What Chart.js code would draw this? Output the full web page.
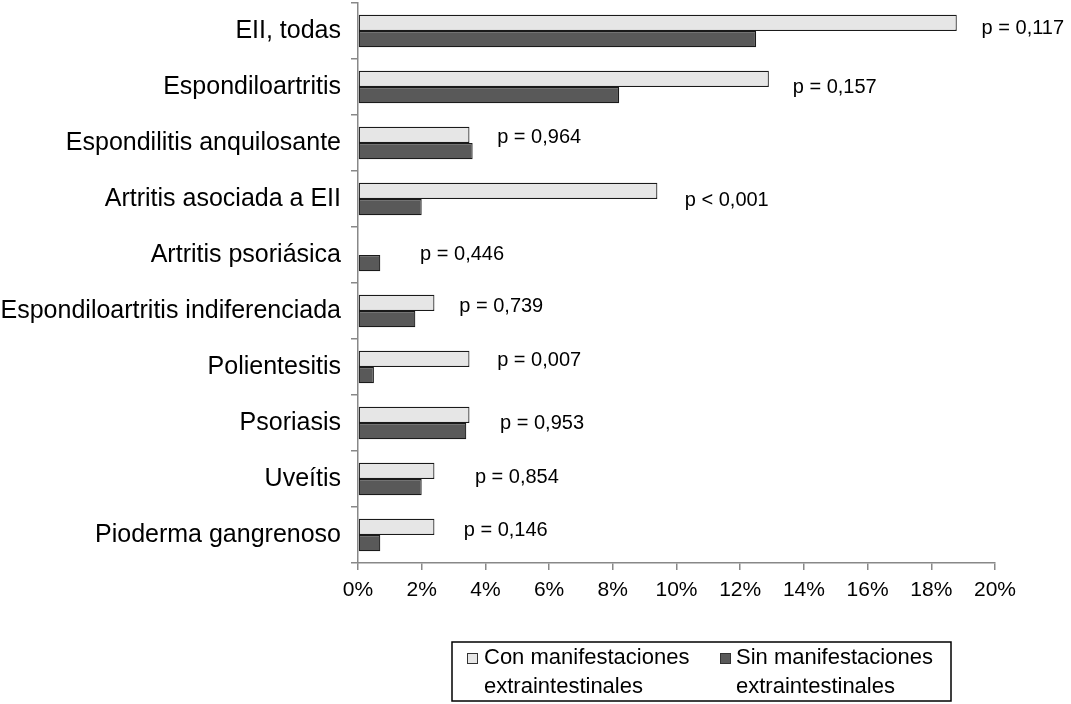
<!DOCTYPE html>
<html>
<head>
<meta charset="utf-8">
<script src="https://cdn.jsdelivr.net/npm/chart.js@4.4.1/dist/chart.umd.min.js"></script>
<style>
  html, body { margin: 0; padding: 0; background: #fff; }
  #wrap { width: 1071px; height: 704px; position: relative; }
</style>
</head>
<body>
<div id="wrap"><canvas id="c" width="1071" height="704"></canvas></div>
<script>
const categories = [
  'EII, todas',
  'Espondiloartritis',
  'Espondilitis anquilosante',
  'Artritis asociada a EII',
  'Artritis psoriásica',
  'Espondiloartritis indiferenciada',
  'Polientesitis',
  'Psoriasis',
  'Uveítis',
  'Pioderma gangrenoso'
];
const seriesNames = ['Con manifestaciones extraintestinales', 'Sin manifestaciones extraintestinales'];
const conValues = [18.8, 12.9, 3.5, 9.4, 0, 2.4, 3.5, 3.5, 2.4, 2.4];
const sinValues = [12.5, 8.2, 3.6, 2.0, 0.7, 1.8, 0.5, 3.4, 2.0, 0.7];
const pLabels = ['p = 0,117', 'p = 0,157', 'p = 0,964', 'p < 0,001', 'p = 0,446', 'p = 0,739', 'p = 0,007', 'p = 0,953', 'p = 0,854', 'p = 0,146'];
const xTickValues = [0, 2, 4, 6, 8, 10, 12, 14, 16, 18, 20];

// annotation placement (value-axis position where each p label starts, and small vertical nudge)
const pLabelAt = [19.58, 13.65, 4.37, 10.26, 1.95, 3.18, 4.37, 4.46, 3.67, 3.32];
const pLabelNudge = [-3, 0, -6, 1, -1, -5, -7, 0, -2, -5];

const FONT = '"Liberation Sans", Arial, Helvetica, sans-serif';
const LIGHT = '#e6e6e6';
const DARK = '#595959';

const pLabelPlugin = {
  id: 'pLabels',
  afterDatasetsDraw(chart) {
    const ctx = chart.ctx;
    const xs = chart.scales.x, ys = chart.scales.y;
    ctx.save();
    ctx.font = '20px ' + FONT;
    ctx.fillStyle = '#000';
    ctx.textAlign = 'left';
    ctx.textBaseline = 'middle';
    pLabels.forEach((t, i) => {
      ctx.fillText(t, xs.getPixelForValue(pLabelAt[i]), ys.getPixelForValue(i) + pLabelNudge[i]);
    });
    ctx.restore();
  }
};

const legendPlugin = {
  id: 'boxLegend',
  afterDraw(chart) {
    const ctx = chart.ctx;
    const ca = chart.chartArea;
    const left = ca.left + 94, top = ca.bottom + 79, w = 499, h = 59;
    ctx.save();
    ctx.strokeStyle = '#000';
    ctx.lineWidth = 1.5;
    ctx.strokeRect(left, top, w, h);
    ctx.font = '22px ' + FONT;
    ctx.textBaseline = 'alphabetic';
    ctx.textAlign = 'left';
    const items = [
      { sq: left + 15, tx: left + 32, color: chart.data.datasets[0].backgroundColor, name: seriesNames[0] },
      { sq: left + 268, tx: left + 284, color: chart.data.datasets[1].backgroundColor, name: seriesNames[1] }
    ];
    items.forEach(it => {
      ctx.fillStyle = it.color;
      ctx.fillRect(it.sq, top + 11, 11, 11);
      ctx.strokeStyle = '#333';
      ctx.lineWidth = 1;
      ctx.strokeRect(it.sq + 0.5, top + 11.5, 10, 10);
      ctx.fillStyle = '#000';
      const words = it.name.split(' ');
      ctx.fillText(words.slice(0, 2).join(' '), it.tx, top + 22);
      ctx.fillText(words.slice(2).join(' '), it.tx, top + 51);
    });
    ctx.restore();
  }
};

new Chart(document.getElementById('c'), {
  type: 'bar',
  data: {
    labels: categories,
    datasets: [
      { label: seriesNames[0], data: conValues, backgroundColor: LIGHT, borderColor: '#1a1a1a', borderWidth: 1.2, borderSkipped: false },
      { label: seriesNames[1], data: sinValues, backgroundColor: DARK, borderColor: '#1a1a1a', borderWidth: 1.2, borderSkipped: false }
    ]
  },
  options: {
    indexAxis: 'y',
    responsive: false,
    animation: false,
    devicePixelRatio: 1,
    datasets: { bar: { categoryPercentage: 0.58, barPercentage: 1.0 } },
    layout: { padding: { top: 3, right: 76, bottom: 101, left: 0 } },
    plugins: { legend: { display: false }, tooltip: { enabled: false } },
    scales: {
      x: {
        type: 'linear',
        min: 0, max: 20,
        afterBuildTicks(scale) { scale.ticks = xTickValues.map(v => ({ value: v })); },
        ticks: {
          callback: v => v + '%',
          font: { size: 21, family: FONT },
          color: '#000',
          padding: 8,
          maxRotation: 0
        },
        grid: { drawOnChartArea: false, drawTicks: true, tickLength: 7, color: '#888', lineWidth: 1.5 },
        border: { color: '#888', width: 1.5 },
        afterFit(scale) { scale.height = 40; scale.paddingLeft = 0; scale.paddingRight = 0; }
      },
      y: {
        type: 'category',
        offset: true,
        ticks: {
          font: { size: 25, family: FONT },
          color: '#000',
          padding: 10
        },
        grid: { offset: true, drawOnChartArea: false, drawTicks: true, tickLength: 7, color: '#888', lineWidth: 1.5 },
        border: { color: '#888', width: 1.5 },
        afterFit(scale) { scale.width = 358; scale.paddingTop = 0; scale.paddingBottom = 0; }
      }
    }
  },
  plugins: [pLabelPlugin, legendPlugin]
});
</script>
</body>
</html>
